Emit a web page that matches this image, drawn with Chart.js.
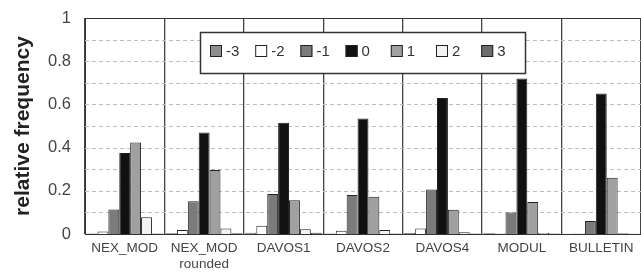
<!DOCTYPE html>
<html>
<head>
<meta charset="utf-8">
<script src="https://cdn.jsdelivr.net/npm/chart.js@4.4.1/dist/chart.umd.min.js"></script>
<style>
  body { margin: 0; background: #fff; }
  #wrap { width: 641px; height: 280px; }
</style>
</head>
<body>
<div id="wrap"><canvas id="freqChart" width="641" height="280"></canvas></div>
<script>
const categories = [["NEX_MOD"], ["NEX_MOD", "rounded"], ["DAVOS1"], ["DAVOS2"], ["DAVOS4"], ["MODUL"], ["BULLETIN"]];
const seriesNames = ["-3", "-2", "-1", "0", "1", "2", "3"];

const devM3 = [0.002, 0.003, 0.006, 0.002, 0.005, 0.003, 0.001];
const devM2 = [0.012, 0.018, 0.038, 0.015, 0.025, 0.002, 0.002];
const devM1 = [0.113, 0.152, 0.185, 0.180, 0.206, 0.100, 0.060];
const dev0 = [0.375, 0.470, 0.515, 0.535, 0.630, 0.720, 0.650];
const devP1 = [0.424, 0.296, 0.156, 0.172, 0.112, 0.148, 0.260];
const devP2 = [0.078, 0.026, 0.022, 0.018, 0.008, 0.005, 0.003];
const devP3 = [0.002, 0.003, 0.006, 0.002, 0.002, 0.002, 0.001];

const yTicks = [0, 0.2, 0.4, 0.6, 0.8, 1];
const dashedLevels = [0.1, 0.2, 0.3, 0.4, 0.5, 0.6, 0.7, 0.8, 0.9];

const allSeries = [devM3, devM2, devM1, dev0, devP1, devP2, devP3];
const fills = ["#8e8e8e", "#ffffff", "#7b7b7b", "#111111", "#a0a0a0", "#f1f3f5", "#6c6c6c"];

const datasets = allSeries.map((values, i) => ({
    label: seriesNames[i],
    data: values,
    backgroundColor: fills[i],
    borderColor: "#222",
    borderWidth: 1,
    categoryPercentage: 0.96,
    barPercentage: 1
}));

// dashed horizontal guide lines behind the bars
const dashedGrid = {
    id: "dashedGrid",
    beforeDatasetsDraw(chart) {
        const ctx = chart.ctx;
        const area = chart.chartArea;
        const y = chart.scales.y;
        ctx.save();
        ctx.strokeStyle = "#bdbdbd";
        ctx.lineWidth = 1;
        ctx.setLineDash([4, 3]);
        dashedLevels.forEach(v => {
            const py = Math.round(y.getPixelForValue(v)) + 0.5;
            ctx.beginPath();
            ctx.moveTo(area.left, py);
            ctx.lineTo(area.right, py);
            ctx.stroke();
        });
        ctx.setLineDash([]);
        ctx.strokeStyle = "#333";
        const top = Math.round(y.getPixelForValue(1)) + 0.5;
        ctx.beginPath();
        ctx.moveTo(area.left, top);
        ctx.lineTo(area.right, top);
        ctx.stroke();
        ctx.restore();
    }
};

// boxed legend sitting inside the plot
const boxLegend = {
    id: "boxLegend",
    afterDraw(chart) {
        const ctx = chart.ctx;
        const x0 = 200, y0 = 32, w = 325, h = 41;
        ctx.save();
        ctx.fillStyle = "#fff";
        ctx.fillRect(x0, y0, w, h);
        ctx.strokeStyle = "#333";
        ctx.lineWidth = 1.5;
        ctx.strokeRect(x0 + 0.5, y0 + 0.5, w, h);
        ctx.lineWidth = 1;
        ctx.font = "15px 'Liberation Sans', Arial, sans-serif";
        ctx.textBaseline = "middle";
        chart.data.datasets.forEach((ds, i) => {
            const sx = 210 + i * 45.2;
            ctx.fillStyle = ds.backgroundColor;
            ctx.fillRect(sx, 45, 12, 12);
            ctx.strokeStyle = "#222";
            ctx.strokeRect(sx + 0.5, 45.5, 11, 11);
            ctx.fillStyle = "#333";
            ctx.fillText(ds.label, sx + 16, 52);
        });
        ctx.restore();
    }
};

new Chart(document.getElementById("freqChart"), {
    type: "bar",
    data: { labels: categories, datasets: datasets },
    options: {
        responsive: false,
        animation: false,
        layout: { padding: { top: 18, right: 0, left: 0, bottom: 0 } },
        plugins: {
            legend: { display: false },
            tooltip: { enabled: false }
        },
        scales: {
            x: {
                grid: { color: "#444", lineWidth: 1.3, drawTicks: false },
                border: { color: "#333" },
                ticks: {
                    color: "#444",
                    padding: 6,
                    font: { family: "'Liberation Sans', Arial, sans-serif", size: 13.5, lineHeight: 1.2 }
                },
                afterFit(scale) { scale.height = 46; }
            },
            y: {
                min: 0,
                max: 1,
                grid: { display: false },
                border: { color: "#333" },
                ticks: {
                    stepSize: 0.2,
                    color: "#444",
                    padding: 6,
                    font: { family: "'Liberation Sans', Arial, sans-serif", size: 16.5 },
                    callback: v => yTicks.includes(Math.round(v * 10) / 10) ? String(Math.round(v * 10) / 10) : ""
                },
                title: {
                    display: true,
                    text: "relative frequency",
                    color: "#222",
                    padding: { top: 11, bottom: 6 },
                    font: { family: "'Liberation Sans', Arial, sans-serif", size: 21, weight: "bold" }
                },
                afterFit(scale) { scale.width = 85; }
            }
        }
    },
    plugins: [dashedGrid, boxLegend]
});
</script>
</body>
</html>
